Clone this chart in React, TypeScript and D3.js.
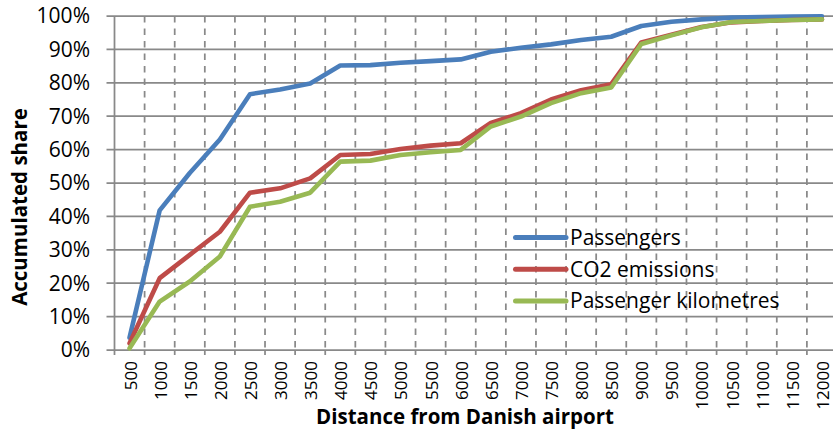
import React from 'react';
import * as d3 from 'd3';

const distances = ['500', '1000', '1500', '2000', '2500', '3000', '3500', '4000', '4500', '5000', '5500', '6000',
  '6500', '7000', '7500', '8000', '8500', '9000', '9500', '10000', '10500', '11000', '11500', '12000'];
const passengers = [3.7, 41.8, 53, 63, 76.6, 78, 79.8, 85.2, 85.3, 86, 86.5, 87,
  89.3, 90.5, 91.5, 92.8, 93.8, 97, 98.3, 99, 99.5, 99.7, 99.8, 99.9];
const co2 = [2, 21.5, 28.5, 35.4, 47.1, 48.4, 51.4, 58.4, 58.7, 60.2, 61.2, 61.9,
  68, 70.9, 75, 77.8, 79.6, 92.1, 94.4, 96.7, 98.1, 98.5, 98.8, 99];
const pkm = [0.5, 14.5, 20.5, 28, 42.9, 44.4, 47.1, 56.4, 56.7, 58.4, 59.2, 59.9,
  66.9, 69.9, 73.9, 76.9, 78.6, 91.6, 94.2, 96.6, 98.2, 98.5, 98.8, 99];
const yTicks = [0, 10, 20, 30, 40, 50, 60, 70, 80, 90, 100];

const series = [
  { name: 'Passengers', values: passengers, color: '#4A7EBB' },
  { name: 'CO2 emissions', values: co2, color: '#BE4B48' },
  { name: 'Passenger kilometres', values: pkm, color: '#98B954' },
];

const W = 833;
const H = 430;
const left = 114.5;
const right = 837;
const top = 16;
const bottom = 350;
const grid = '#898989';
const font = '"Open Sans", sans-serif';

export default function App() {
  const x = d3.scaleBand().domain(distances).range([left, right]).padding(0);
  const y = d3.scaleLinear().domain([0, 100]).range([bottom, top]);
  const bw = x.bandwidth();
  const cx = (d) => x(d) + bw / 2;

  const line = d3.line()
    .x((d, i) => cx(distances[i]))
    .y(d => y(d));

  return (
    <svg width={W} height={H} style={{ position: 'absolute', left: 0, top: 0, background: '#fff' }}>
      {/* vertical dashed grid at category boundaries */}
      {distances.slice(1).map(d => (
        <line key={'v' + d} x1={x(d)} x2={x(d)} y1={top} y2={bottom}
          stroke={grid} strokeWidth={1.75} strokeDasharray="6.5,6" />
      ))}
      {/* horizontal grid */}
      {yTicks.map(t => (
        <line key={'h' + t} x1={left - 8} x2={right} y1={y(t)} y2={y(t)} stroke={grid} strokeWidth={1.75} />
      ))}
      {/* y axis */}
      <line x1={left} x2={left} y1={top} y2={bottom + 5} stroke={grid} strokeWidth={1.75} />
      {/* x ticks */}
      {distances.slice(1).map(d => (
        <line key={'t' + d} x1={x(d)} x2={x(d)} y1={bottom} y2={bottom + 5} stroke={grid} strokeWidth={1.75} />
      ))}

      {series.map(s => (
        <path key={s.name} d={line(s.values)} fill="none" stroke={s.color} strokeWidth={4.6}
          strokeLinejoin="round" strokeLinecap="round" />
      ))}

      {/* y tick labels */}
      {yTicks.map(t => (
        <text key={'yl' + t} x={90} y={y(t)} dy="0.35em" textAnchor="end"
          fontFamily={font} fontSize={21} fill="#000">{t + '%'}</text>
      ))}
      {/* x tick labels */}
      {distances.map(d => (
        <text key={'xl' + d} transform={`translate(${cx(d) + 1},${361}) rotate(-90)`} dy="0.35em"
          textAnchor="end" fontFamily={font} fontSize={17} fill="#000">{d}</text>
      ))}

      {/* legend */}
      {series.map((s, i) => {
        const ly = 237.5 + i * 31.8;
        return (
          <g key={'lg' + s.name}>
            <line x1={515.5} x2={566} y1={ly} y2={ly} stroke={s.color} strokeWidth={5} strokeLinecap="round" />
            <text x={570} y={ly} dy="0.35em" fontFamily={font} fontSize={21} fill="#000">{s.name}</text>
          </g>
        );
      })}

      {/* axis titles */}
      <text x={465} y={424} textAnchor="middle" fontFamily={font} fontSize={20.5} fontWeight="bold">
        Distance from Danish airport
      </text>
      <text transform="translate(27,207) rotate(-90)" textAnchor="middle" fontFamily={font}
        fontSize={20.5} fontWeight="bold">Accumulated share</text>
    </svg>
  );
}
